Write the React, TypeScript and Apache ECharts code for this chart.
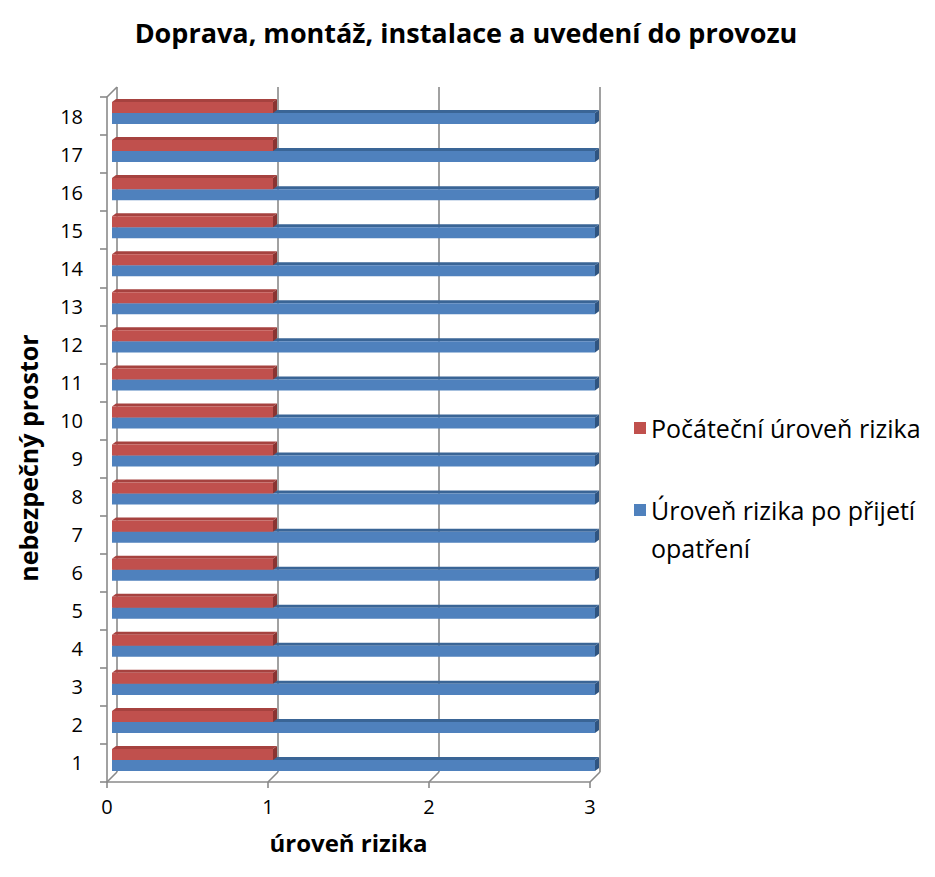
import { useEffect, useRef } from 'react';
import * as echarts from 'echarts';

// Hazard zones 1–18 and their risk levels
const categories = ['1', '2', '3', '4', '5', '6', '7', '8', '9', '10', '11', '12', '13', '14', '15', '16', '17', '18'];
const initialRisk = [1, 1, 1, 1, 1, 1, 1, 1, 1, 1, 1, 1, 1, 1, 1, 1, 1, 1];
const residualRisk = [3, 3, 3, 3, 3, 3, 3, 3, 3, 3, 3, 3, 3, 3, 3, 3, 3, 3];
const xTicks = [0, 1, 2, 3];

const NAME_INITIAL = 'Počáteční úroveň rizika';
const NAME_RESIDUAL = 'Úroveň rizika po přijetí opatření';

const FONT = '"Open Sans", "Noto Sans", sans-serif';
const FRAME = '#8a8a8a';

// Oblique projection offsets (pixels) relative to the front plane of the grid
const WALL = [10, -10];
const BAR_FRONT = [5, -3];
const BAR_DEPTH = [4, -3];

const renderFrame = (params: any, api: any) => {
  const cs = params.coordSys;
  const v = api.value(0);
  const x = api.coord([v, 0])[0];
  const top = cs.y;
  const bottom = cs.y + cs.height;
  const [wx, wy] = WALL;
  const style = { stroke: FRAME, lineWidth: 1.6, fill: null };
  const children: any[] = [
    { type: 'line', shape: { x1: x + wx, y1: top + wy, x2: x + wx, y2: bottom + wy }, style },
    { type: 'line', shape: { x1: x + wx, y1: bottom + wy, x2: x, y2: bottom }, style },
  ];
  if (v === 0) {
    children.push({ type: 'line', shape: { x1: x, y1: top, x2: x + wx, y2: top + wy }, style });
  }
  return { type: 'group', children };
};

const makeBarRenderer = (slot: number, front: string, topFace: string, side: string) =>
  (_params: any, api: any) => {
    const v = api.value(0);
    const c = api.value(1);
    const p0 = api.coord([0, c]);
    const p1 = api.coord([v, c]);
    const band = api.size([0, 1])[1];
    const h = band * 0.29;
    const yc = p0[1] + BAR_FRONT[1];
    const yTop = slot === 0 ? yc - h : yc;
    const yBot = yTop + h;
    const xL = p0[0] + BAR_FRONT[0];
    const xR = p1[0] + BAR_FRONT[0];
    const [dx, dy] = BAR_DEPTH;
    return {
      type: 'group',
      children: [
        {
          type: 'polygon',
          shape: { points: [[xL, yTop], [xR, yTop], [xR + dx, yTop + dy], [xL + dx, yTop + dy]] },
          style: { fill: topFace },
        },
        {
          type: 'polygon',
          shape: { points: [[xR, yTop], [xR + dx, yTop + dy], [xR + dx, yBot + dy], [xR, yBot]] },
          style: { fill: side },
        },
        {
          type: 'rect',
          shape: { x: xL, y: yTop, width: xR - xL, height: h },
          style: { fill: front },
        },
      ],
    };
  };

export default function App() {
  const ref = useRef<HTMLDivElement>(null);

  useEffect(() => {
    if (!ref.current) return;
    const chart = echarts.init(ref.current, undefined, { renderer: 'svg' });
    chart.setOption({
      animation: false,
      backgroundColor: '#ffffff',
      textStyle: { fontFamily: FONT },
      title: {
        text: 'Doprava, montáž, instalace a uvedení do provozu',
        left: 461,
        textAlign: 'center',
        top: 14,
        textStyle: { fontFamily: FONT, fontWeight: 'bold', fontSize: 27, color: '#000' },
      },
      legend: {
        orient: 'vertical',
        left: 634,
        top: 409,
        padding: 0,
        itemWidth: 12,
        itemHeight: 12,
        itemGap: 6,
        textGap: 7,
        icon: 'rect',
        textStyle: { fontFamily: FONT, fontSize: 25, color: '#000', lineHeight: 38 },
        // the leading empty line keeps the icon level with the first line of the wrapped label
        formatter: (name: string) => (name === NAME_RESIDUAL ? '\nÚroveň rizika po přijetí\nopatření' : name),
        data: [NAME_INITIAL, NAME_RESIDUAL],
      },
      graphic: [
        {
          type: 'text',
          x: 28,
          y: 458,
          rotation: Math.PI / 2,
          style: {
            text: 'nebezpečný prostor',
            align: 'center',
            verticalAlign: 'middle',
            fontFamily: FONT,
            fontWeight: 'bold',
            fontSize: 25,
            fill: '#000',
          },
        },
      ],
      grid: { left: 107, top: 97, width: 483, height: 685 },
      xAxis: {
        type: 'value',
        min: 0,
        max: 3,
        interval: 1,
        splitLine: { show: false },
        axisLine: { show: true, lineStyle: { color: FRAME, width: 1.6 } },
        axisTick: { show: true, length: 6, lineStyle: { color: FRAME, width: 1.6 } },
        axisLabel: { fontFamily: FONT, fontSize: 20, color: '#000', margin: 14 },
        name: 'úroveň rizika',
        nameLocation: 'middle',
        nameGap: 48,
        nameTextStyle: { fontFamily: FONT, fontWeight: 'bold', fontSize: 24, color: '#000' },
      },
      yAxis: {
        type: 'category',
        data: categories,
        axisLine: { show: true, lineStyle: { color: FRAME, width: 1.6 } },
        axisTick: { show: true, length: 7, lineStyle: { color: FRAME, width: 1.6 } },
        axisLabel: { fontFamily: FONT, fontSize: 20, color: '#000', margin: 24 },
      },
      series: [
        {
          type: 'custom',
          name: 'frame',
          silent: true,
          clip: false,
          z: 1,
          encode: { x: 0, y: 1 },
          data: xTicks.map((v) => [v, 0]),
          renderItem: renderFrame,
        },
        {
          type: 'custom',
          name: NAME_RESIDUAL,
          clip: false,
          z: 2,
          itemStyle: { color: '#4f81bd' },
          encode: { x: 0, y: 1 },
          data: residualRisk.map((v, i) => [v, i]),
          renderItem: makeBarRenderer(1, '#4f81bd', '#3a6596', '#2f5480'),
        },
        {
          type: 'custom',
          name: NAME_INITIAL,
          clip: false,
          z: 3,
          itemStyle: { color: '#c0504d' },
          encode: { x: 0, y: 1 },
          data: initialRisk.map((v, i) => [v, i]),
          renderItem: makeBarRenderer(0, '#c0504d', '#a6423f', '#8a3432'),
        },
      ],
    });
    return () => chart.dispose();
  }, []);

  return <div ref={ref} style={{ position: 'absolute', left: 0, top: 0, width: 935, height: 877 }} />;
}
